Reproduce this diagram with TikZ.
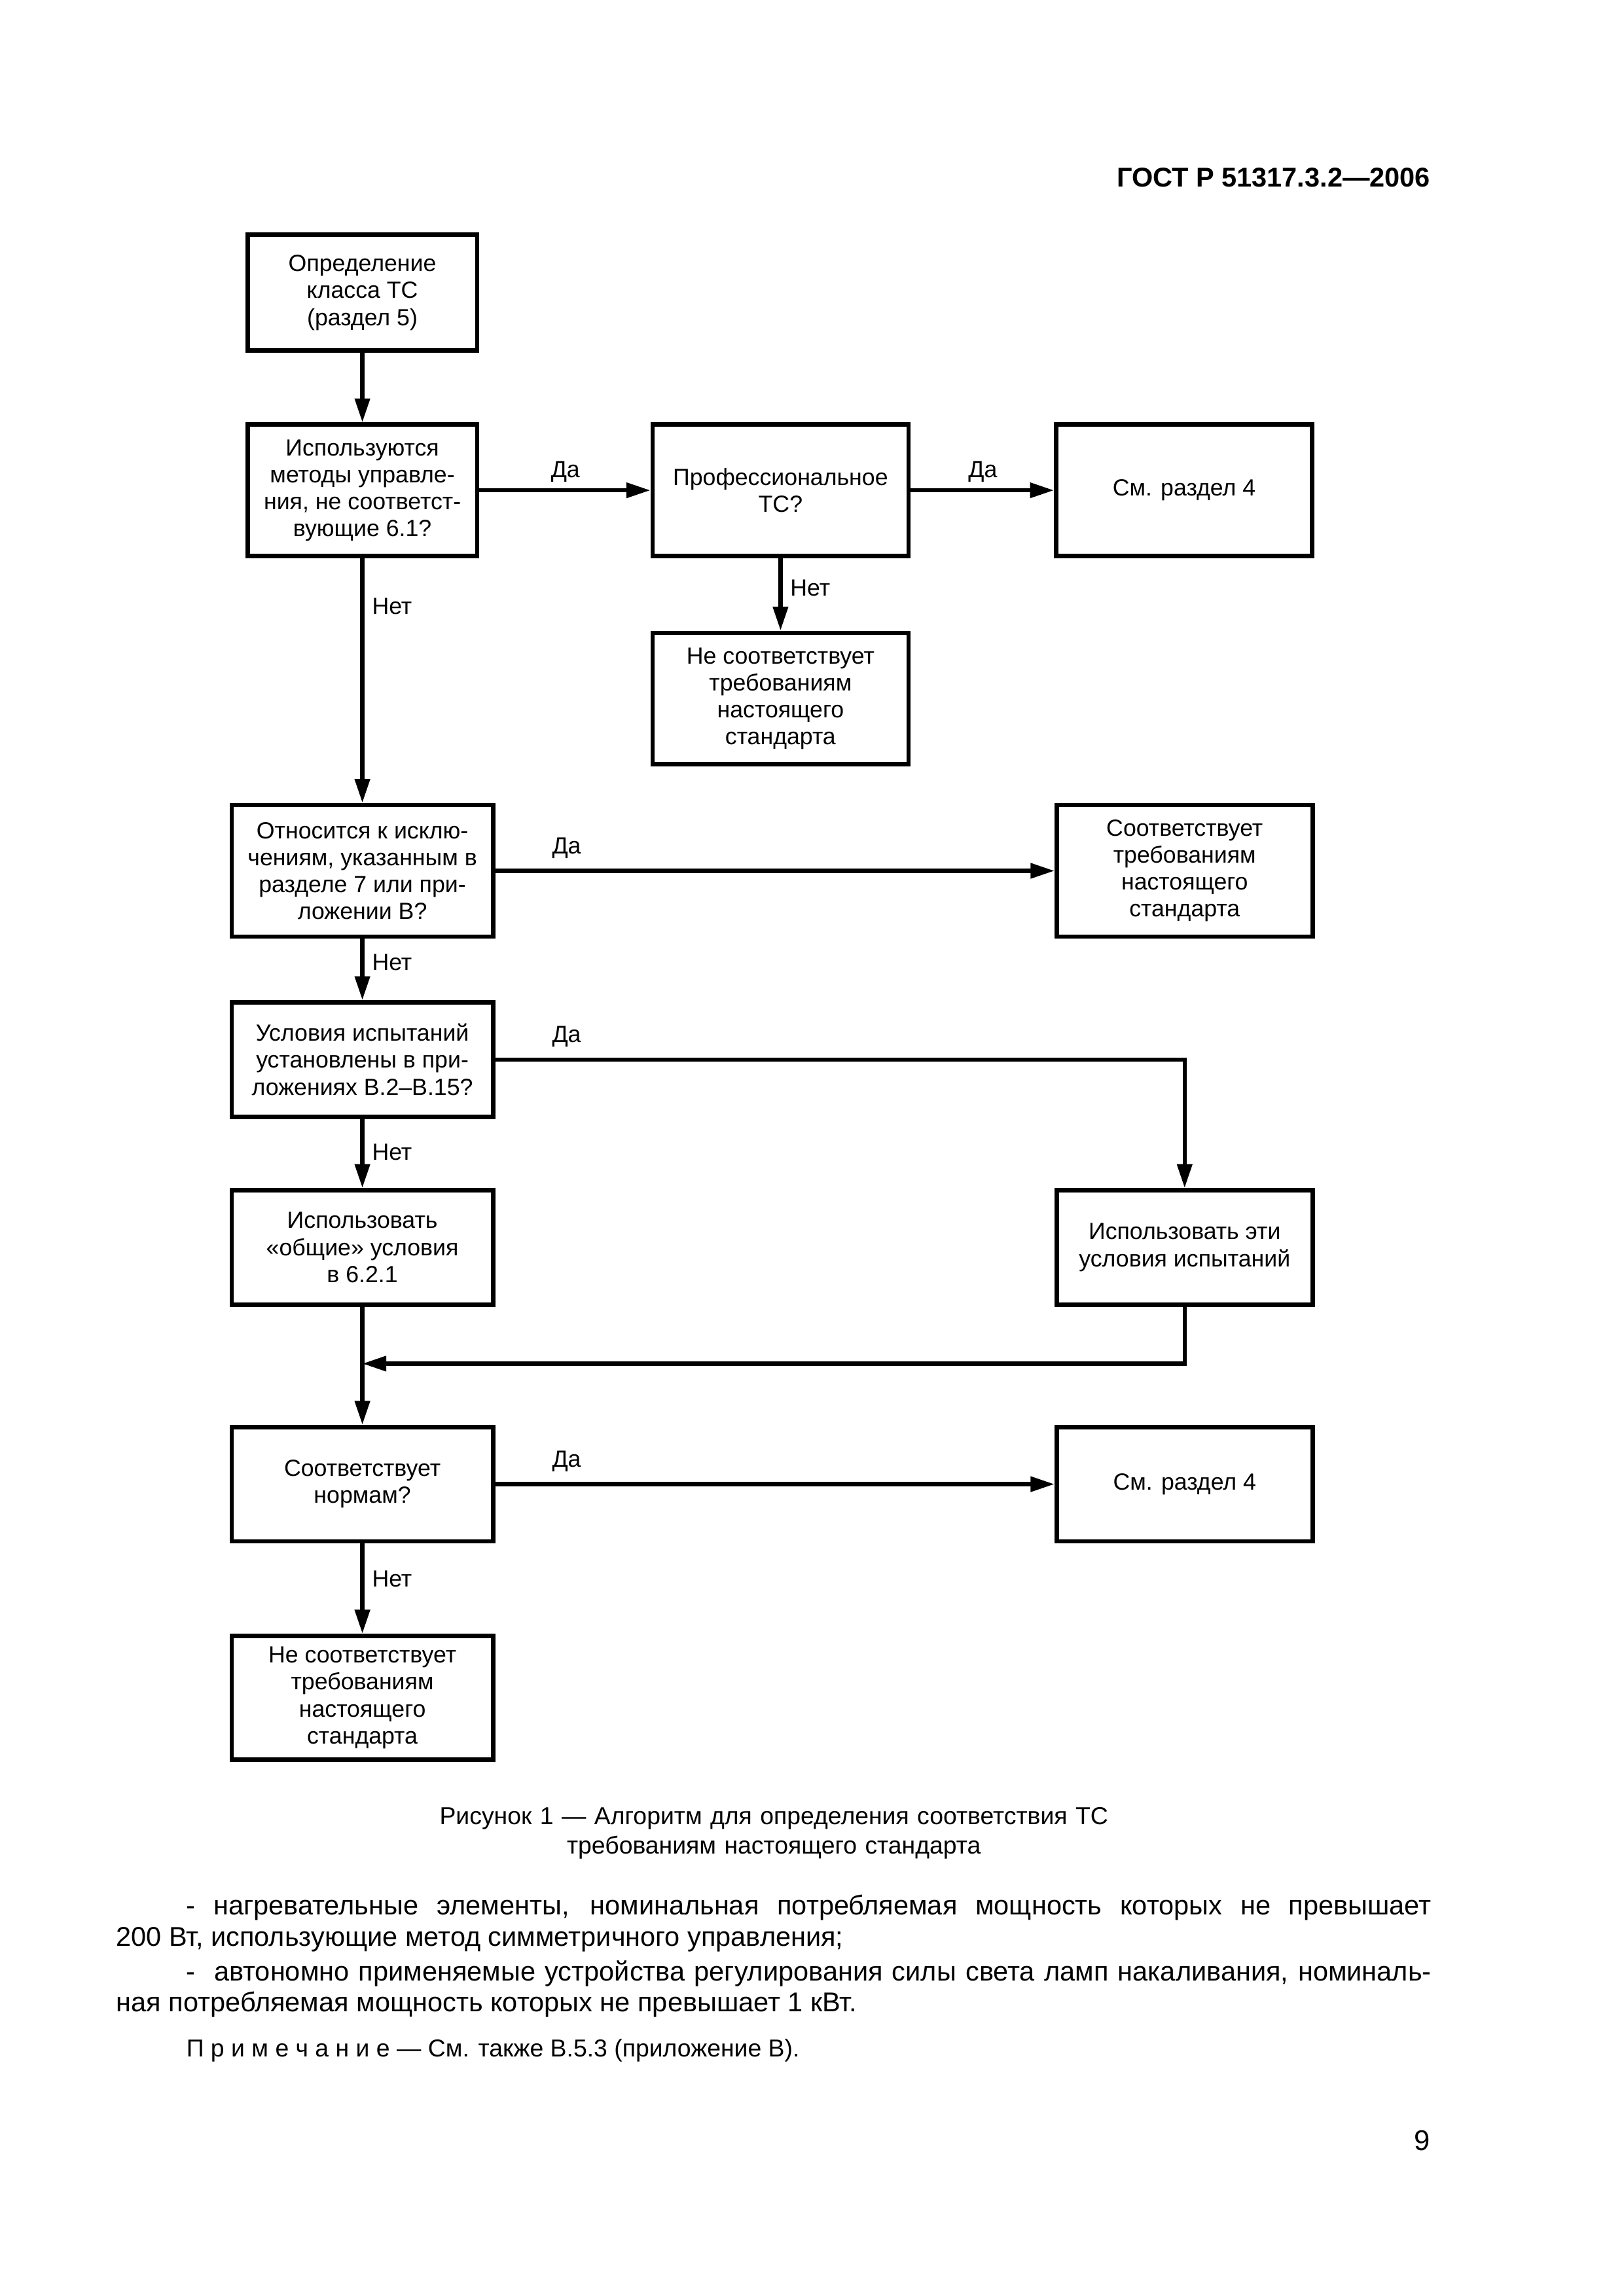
\documentclass[tikz,border=0pt]{standalone}
\usepackage{fontspec}
\setmainfont{Liberation Sans}
\usepackage{tikz}
\usetikzlibrary{
	arrows.meta,
	positioning
}

\newcommand{\flowfont}{\fontsize{8.6}{9.9}\selectfont}
\newcommand{\parafont}{\fontsize{10}{11.5}\selectfont}
\newcommand{\capfont}{\fontsize{9}{11}\selectfont}

\begin{document}
\begin{tikzpicture}[
		block/.style={draw, line width=1.6pt, align=center, font=\flowfont, inner sep=1pt, minimum height=1.70cm},
		narrow/.style={block, minimum width=2.97cm},
		wide/.style={block, minimum width=3.38cm},
		side/.style={block, minimum width=3.31cm},
		low/.style={minimum height=1.48cm},
		arrow/.style={-{Triangle[length=3.1mm, width=1.9mm]}, line width=1.5pt},
		yes/.style={font=\flowfont, inner sep=0pt, pos=0, anchor=base west, xshift=0.71cm, yshift=0.22cm},
		no/.style={font=\flowfont, inner sep=0pt, anchor=base west, xshift=0.1cm},
		para/.style={font=\parafont, inner sep=0pt, anchor=base west, text width=17.008cm, align=justify}
		]
		
		% page
		\fill[white] (0,0) rectangle (21,-29.7);
		\useasboundingbox (0,0) rectangle (21,-29.7);
		
		\node[font=\bfseries\fontsize{10}{12}\selectfont, inner sep=0pt, anchor=base east] (header) at (18.506,-2.414) {ГОСТ Р 51317.3.2—2006};
		
		% =========================
		% Main column
		% =========================
		\node[narrow, minimum height=1.50cm] (classify) at (4.687,-3.786) {Определение\\класса ТС\\(раздел 5)};
		\node[narrow, below=0.90cm of classify] (methods) {Используются\\методы управле-\\ния, не соответст-\\вующие 6.1?};
		\node[wide, below=3.166cm of methods] (except) {Относится к исклю-\\чениям, указанным в\\разделе 7 или при-\\ложении В?};
		\node[wide, low, below=0.795cm of except] (testcond) {Условия испытаний\\установлены в при-\\ложениях В.2–В.15?};
		\node[wide, low, below=0.894cm of testcond] (general) {Использовать\\«общие» условия\\в 6.2.1};
		\node[wide, low, below=1.526cm of general] (limits) {Соответствует\\нормам?};
		\node[wide, minimum height=1.60cm, below=1.166cm of limits] (fail2) {Не соответствует\\требованиям\\настоящего\\стандарта};
		
		% =========================
		% Right side
		% =========================
		\node[side, right=2.212cm of methods] (prof) {Профессиональное\\ТС?};
		\node[side, right=1.854cm of prof] (see1) {См. раздел 4};
		\node[side, below=0.937cm of prof] (fail1) {Не соответствует\\требованиям\\настоящего\\стандарта};
		\node[side, right=7.234cm of except] (pass) {Соответствует\\требованиям\\настоящего\\стандарта};
		\node[side, low, right=7.234cm of general] (own) {Использовать эти\\условия испытаний};
		\node[side, low, right=7.234cm of limits] (see2) {См. раздел 4};
		
		\coordinate[below=0.735cm of general.south] (merge);
		
		% =========================
		% Arrows
		% =========================
		\draw[arrow] (classify) -- (methods);
		\draw[arrow] (methods) -- node[yes, xshift=0.19cm, yshift=-0.05cm] {Да} (prof);
		\draw[arrow] (prof) -- node[yes, xshift=0.01cm, yshift=-0.05cm] {Да} (see1);
		\draw[arrow] (prof) -- node[no, pos=0.52] {Нет} (fail1);
		\draw[arrow] (methods) -- node[no, pos=0.23] {Нет} (except);
		
		\draw[arrow] (except) -- node[yes] {Да} (pass);
		\draw[arrow] (except) -- node[no, pos=0.51] {Нет} (testcond);
		
		\draw[arrow] (testcond) -| node[yes] {Да} (own);
		\draw[arrow] (testcond) -- node[no, pos=0.6] {Нет} (general);
		
		\draw[arrow] (own.south) |- (merge);
		\draw[arrow] (general) -- (limits);
		
		\draw[arrow] (limits) -- node[yes] {Да} (see2);
		\draw[arrow] (limits) -- node[no, pos=0.48] {Нет} (fail2);
		
		% =========================
		% Caption and text
		% =========================
		\node[font=\capfont, inner sep=0pt, anchor=base west, text width=17.008cm, align=center] (caption) at (1.498,-23.596) {Рисунок 1 — Алгоритм для определения соответствия ТС\\требованиям настоящего стандарта};
		
		\node[para] (item1) at (1.498,-24.768) {\hspace*{0.906cm}- нагревательные элементы, номинальная потребляемая мощность которых не превышает\linebreak 200 Вт, использующие метод симметричного управления;};
		\node[para] (item2) at (1.498,-25.621) {\hspace*{0.906cm}-~ автономно применяемые устройства регулирования силы света ламп накаливания, номиналь-\linebreak ная потребляемая мощность которых не превышает 1 кВт.};
		
		\node[font=\capfont, inner sep=0pt, anchor=base west] (note) at (2.404,-26.607) {П р и м е ч а н и е — См. также В.5.3 (приложение В).};
		
		\node[font=\fontsize{10.5}{12}\selectfont, inner sep=0pt, anchor=base east] (pageno) at (18.506,-27.82) {9};
		
	\end{tikzpicture}
\end{document}
